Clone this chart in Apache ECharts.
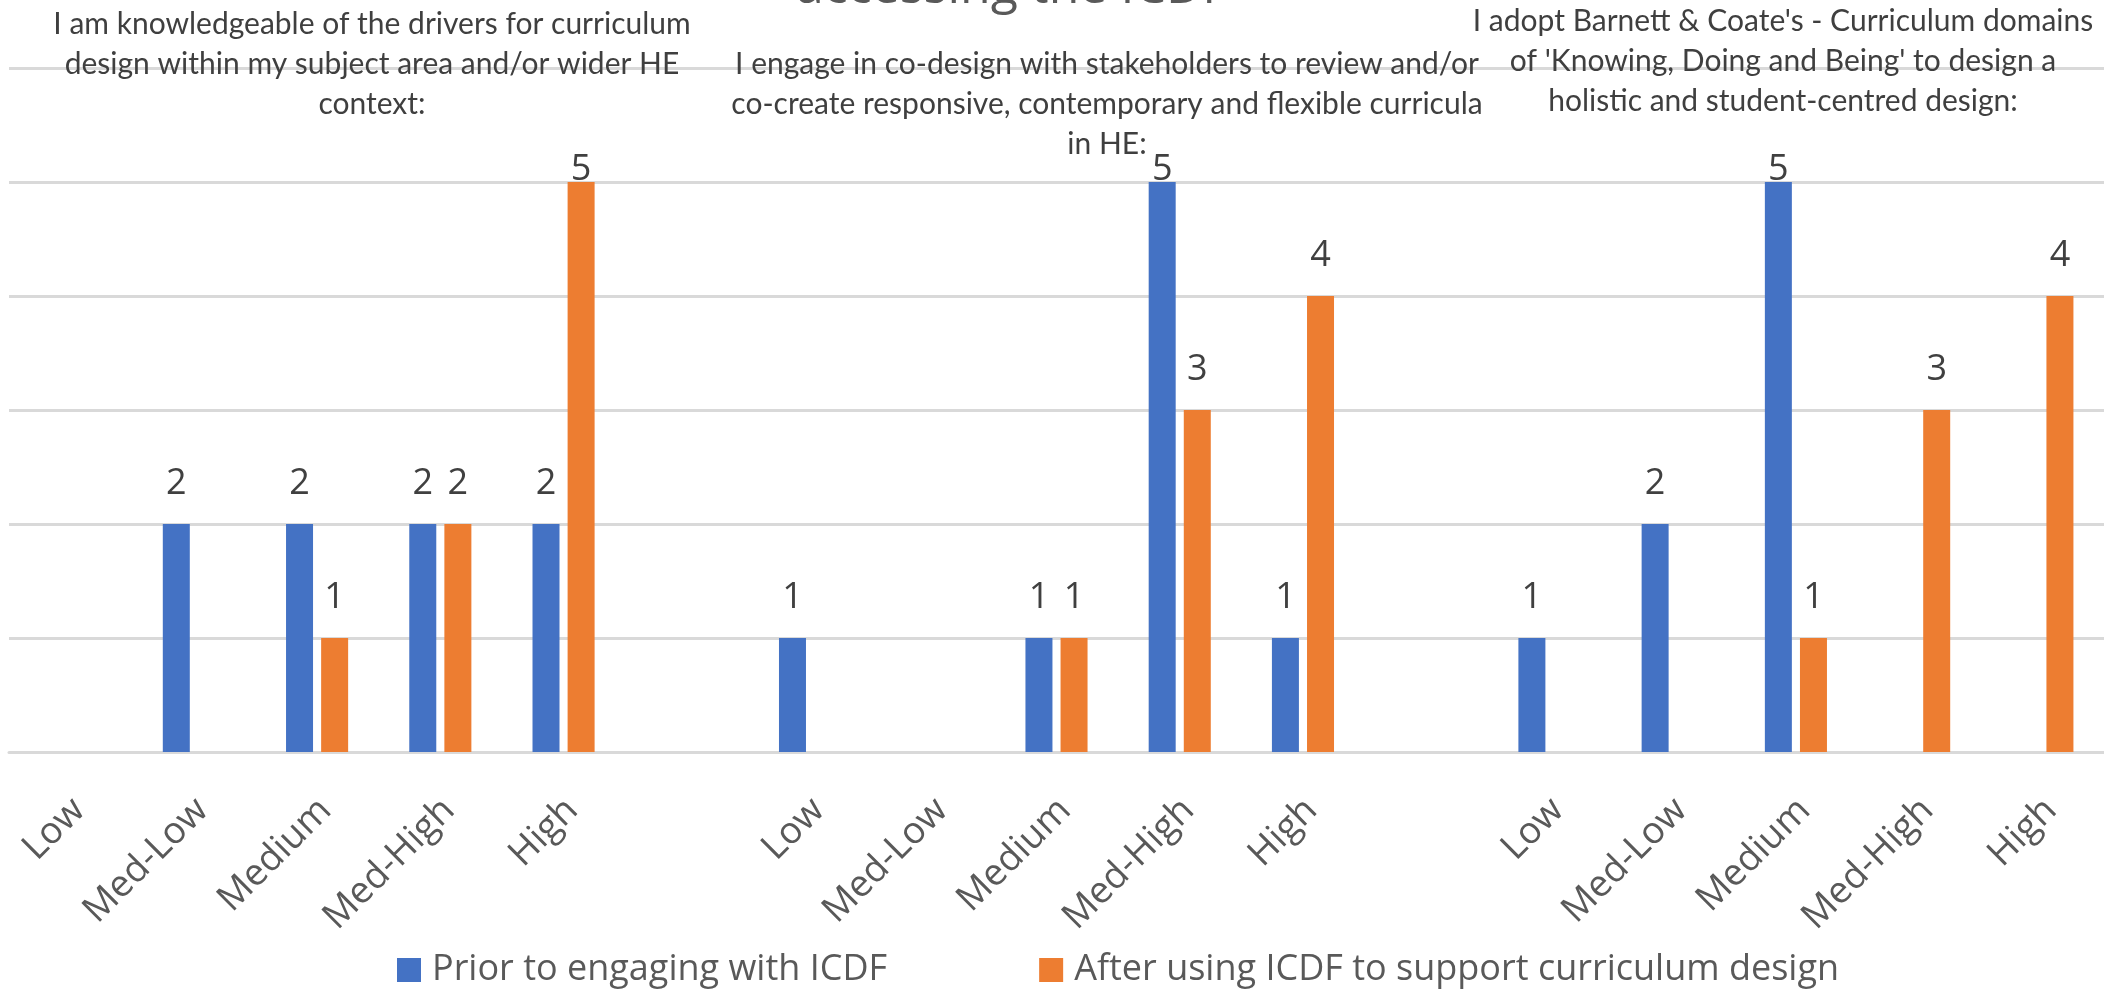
<!DOCTYPE html>
<html>
<head>
<meta charset="utf-8">
<title>ICDF curriculum design self-assessment</title>
<script src="https://cdn.jsdelivr.net/npm/echarts@6/dist/echarts.min.js"></script>
<style>
  html, body { margin: 0; padding: 0; background: #ffffff; }
  #chart { width: 2104px; height: 991px; }
</style>
</head>
<body>
<div id="chart"></div>
<script>
// Rating levels for the three statements, with an empty slot separating each block
const categories = [
  'Low', 'Med-Low', 'Medium', 'Med-High', 'High', '',
  'Low', 'Med-Low', 'Medium', 'Med-High', 'High', '',
  'Low', 'Med-Low', 'Medium', 'Med-High', 'High'
];

// Number of respondents at each level (null = no response)
const priorValues = [
  null, 2, 2, 2, 2, null,
  1, null, 1, 5, 1, null,
  1, 2, 5, null, null
];
const afterValues = [
  null, null, 1, 2, 5, null,
  null, null, 1, 3, 4, null,
  null, null, 1, 3, 4
];

const seriesNames = [
  'Prior to engaging with ICDF',
  'After using ICDF to support curriculum design'
];

const statements = [
  'I am knowledgeable of the drivers for curriculum\ndesign within my subject area and/or wider HE\ncontext:',
  'I engage in co-design with stakeholders to review and/or\nco-create responsive, contemporary and flexible curricula\nin HE:',
  "I adopt Barnett & Coate's - Curriculum domains\nof 'Knowing, Doing and Being' to design a\nholistic and student-centred design:"
];

const chartTitle = 'accessing the ICDF';

const BLUE = '#4472C4';
const ORANGE = '#ED7D31';
const GRID = '#D9D9D9';
const FONT = '"Open Sans", "Noto Sans", sans-serif';

// Value labels sit above each bar; the tallest bars keep their label tucked close
function withLabels(values) {
  return values.map(function (v) {
    if (v === null) return null;
    return { value: v, label: { distance: v >= 5 ? -6 : 22 } };
  });
}

const chart = echarts.init(document.getElementById('chart'), null, { renderer: 'canvas' });

const statementPlacement = [
  { x: 372, y: 4 },
  { x: 1107, y: 44 },
  { x: 1783, y: 1 }
];

const option = {
  backgroundColor: '#ffffff',
  animation: false,
  grid: { left: 9, right: -18, top: 68, bottom: 239, containLabel: false },
  legend: {
    data: seriesNames,
    left: 392,
    top: 945,
    itemWidth: 24,
    itemHeight: 24,
    itemGap: 152,
    icon: 'rect',
    textStyle: { fontFamily: FONT, fontSize: 36, color: '#595959', padding: [0, 0, 0, 6], lineHeight: 40 }
  },
  xAxis: {
    type: 'category',
    data: categories,
    axisTick: { show: false },
    axisLine: { lineStyle: { color: GRID, width: 3 } },
    axisLabel: {
      interval: 0,
      rotate: 45,
      margin: 44,
      verticalAlign: 'top',
      lineHeight: 24,
      fontFamily: FONT,
      fontSize: 37,
      color: '#595959'
    }
  },
  yAxis: {
    type: 'value',
    min: 0,
    max: 6,
    interval: 1,
    axisLabel: { show: false },
    axisLine: { show: false },
    axisTick: { show: false },
    splitLine: { lineStyle: { color: GRID, width: 3 } }
  },
  series: [
    {
      name: seriesNames[0],
      type: 'bar',
      data: withLabels(priorValues),
      barWidth: 27,
      barGap: '30%',
      itemStyle: { color: BLUE },
      label: { show: true, position: 'top', fontFamily: FONT, fontSize: 36, color: '#404040' }
    },
    {
      name: seriesNames[1],
      type: 'bar',
      data: withLabels(afterValues),
      barWidth: 27,
      barGap: '30%',
      itemStyle: { color: ORANGE },
      label: { show: true, position: 'top', fontFamily: FONT, fontSize: 36, color: '#404040' }
    }
  ],
  graphic: [
    {
      type: 'text',
      x: 1012,
      y: -11,
      silent: true,
      style: {
        text: chartTitle,
        font: '50px ' + FONT,
        fill: '#595959',
        textAlign: 'center',
        textVerticalAlign: 'middle'
      }
    }
  ].concat(statements.map(function (s, i) {
    return {
      type: 'text',
      x: statementPlacement[i].x,
      y: statementPlacement[i].y,
      silent: true,
      z: 10,
      style: {
        text: s,
        font: '30px Lato, "Open Sans", sans-serif',
        lineHeight: 40,
        fill: '#3f3f3f',
        textAlign: 'center',
        textVerticalAlign: 'top'
      }
    };
  }))
};

chart.setOption(option);
</script>
</body>
</html>
